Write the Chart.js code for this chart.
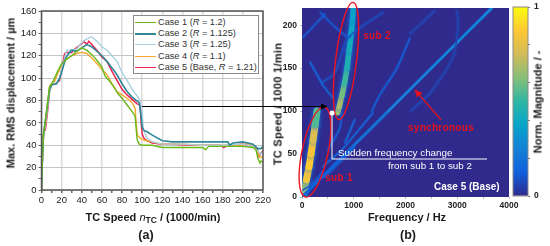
<!DOCTYPE html>
<html>
<head>
<meta charset="utf-8">
<script src="https://cdn.jsdelivr.net/npm/chart.js@4/dist/chart.umd.min.js"></script>
<style>
  html, body { margin: 0; padding: 0; background: #fff; }
  body { width: 550px; height: 246px; position: relative; overflow: hidden; font-family: "Liberation Sans", Arial, sans-serif; }
  canvas { position: absolute; }
  svg { position: absolute; left: 0; top: 0; }
  .t { position: absolute; white-space: nowrap; color: #111; line-height: 1; }
  .b { font-weight: bold; }
  .title { font-weight: bold; font-size: 11px; color: #1a1a1a; }
  .big { font-size: 12.5px; }
  .rot { transform: translate(-50%, -50%) rotate(-90deg); }
  .mid { transform: translate(-50%, -50%); }
  .red { color: #e3121e; font-weight: bold; font-size: 10px; letter-spacing: 0.3px; }
  .wht { color: #fff; font-size: 9.8px; }
  sub { font-size: 8.5px; line-height: 0; vertical-align: -2px; }
  #legend { position: absolute; left: 133px; top: 15px; width: 124px; height: 57px; background: #fff; border: 1px solid #8a8a8a; }
  #legend div { position: absolute; left: 0; height: 11px; font-size: 9.2px; line-height: 11px; color: #333; white-space: nowrap; }
  #legend span { position: absolute; left: 1px; top: 5px; width: 21px; }
  #legend b { font-weight: normal; position: absolute; left: 24px; top: 0; }
</style>
</head>
<body>
<canvas id="left" width="275" height="246" style="left:0;top:0"></canvas>
<canvas id="right" width="255" height="246" style="left:270px;top:0"></canvas>
<canvas id="bar" width="40" height="246" style="left:510px;top:0"></canvas>
<div id="legend"></div>

<svg width="550" height="246">
  <defs>
    <marker id="blackHead" markerWidth="7" markerHeight="7" refX="6" refY="3" orient="auto"><path d="M0,0 L6.5,3 L0,6 Z" fill="#000"/></marker>
    <marker id="redHead" markerWidth="8" markerHeight="8" refX="6" refY="3" orient="auto"><path d="M0,0 L6.5,3 L0,6 Z" fill="#e3121e"/></marker>
  </defs>
  <ellipse cx="315" cy="152" rx="13" ry="46" transform="rotate(12 315 152)" fill="none" stroke="#ee1420" stroke-width="1.4"/>
  <ellipse cx="346" cy="61" rx="10.5" ry="59" transform="rotate(7 346 61)" fill="none" stroke="#ee1420" stroke-width="1.4"/>
  <line x1="142" y1="106.5" x2="327" y2="106.5" stroke="#000" stroke-width="1" marker-end="url(#blackHead)"/>
  <line x1="441" y1="120" x2="415" y2="90" stroke="#e3121e" stroke-width="1.2" marker-end="url(#redHead)"/>
  <polyline points="332,113 332,159 487,159" fill="none" stroke="#fff" stroke-width="1"/>
  <circle cx="332" cy="113" r="2.5" fill="#fff"/>
</svg>

<div class="t title rot" style="left:11px;top:93px">Max. RMS displacement / µm</div>
<div class="t title mid" style="left:153px;top:217px">TC Speed <i style="font-weight:normal">n</i><sub>TC</sub> / (1000/min)</div>
<div class="t title big mid" style="left:146px;top:235px">(a)</div>
<div class="t title rot" style="left:278px;top:104px;letter-spacing:0.3px">TC Speed / 1000 1/min</div>
<div class="t title mid" style="left:407px;top:217px">Frequency / Hz</div>
<div class="t title big mid" style="left:408px;top:235px">(b)</div>
<div class="t title rot" style="left:538px;top:102px">Norm. Magnitude / -</div>

<div class="t red mid" style="left:377px;top:36px">sub 2</div>
<div class="t red mid" style="left:339px;top:178px">sub 1</div>
<div class="t red mid" style="left:441px;top:128px">synchronous</div>
<div class="t wht" style="left:338px;top:148px">Sudden frequency change</div>
<div class="t wht" style="left:388px;top:161px">from sub 1 to sub 2</div>
<div class="t wht b" style="left:434px;top:182px;font-size:10px">Case 5 (Base)</div>

<script>
// TC speed in 1000/min, displacement in um
const case1Speed = [0, 1, 2, 5, 8, 12, 16, 20, 25, 30, 35, 40, 45, 50, 55, 60, 63, 68, 72, 76, 80, 85, 90, 93, 94, 95, 97, 100, 110, 120, 130, 140, 150, 160, 163, 166, 180, 190, 200, 210, 213, 215, 217, 218, 220];
const case1Disp = [0, 30, 50, 70, 92, 98, 106, 113, 117, 120, 124, 127, 125, 121, 116, 110, 102, 97, 92, 86, 82, 76, 70, 66, 55, 45, 41, 40, 40, 38, 38, 38, 38, 38, 36, 39, 39, 39, 39, 38, 36, 28, 24, 26, 25];
const case2Speed = [0, 1, 2, 5, 8, 10, 15, 18, 20, 24, 27, 30, 35, 40, 45, 50, 55, 60, 65, 70, 75, 80, 85, 90, 97, 99, 100, 102, 105, 110, 120, 130, 140, 160, 185, 187, 190, 200, 205, 210, 215, 218, 220];
const case2Disp = [0, 30, 50, 70, 90, 94, 95, 100, 105, 118, 122, 125, 124, 127, 130, 128, 124, 120, 115, 109, 103, 95, 88, 83, 78, 65, 56, 53, 52, 49, 44, 43, 43, 43, 43, 40, 42, 43, 42, 41, 37, 37, 39];
const case3Speed = [0, 1, 2, 5, 8, 10, 15, 18, 20, 25, 30, 35, 40, 45, 50, 55, 60, 65, 70, 75, 80, 85, 90, 95, 98, 100, 101, 103, 105, 110, 120, 140, 160, 180, 200, 210, 215, 217, 220];
const case3Disp = [0, 28, 48, 66, 88, 94, 96, 100, 108, 125, 125, 126, 132, 135, 137, 133, 128, 125, 120, 115, 105, 98, 90, 84, 80, 70, 55, 50, 46, 43, 41, 41, 40, 40, 41, 39, 35, 32, 34];
const case4Speed = [0, 1, 2, 4, 6, 8, 10, 13, 16, 20, 25, 30, 35, 40, 45, 50, 55, 60, 65, 70, 75, 80, 85, 90, 93, 94, 95, 96, 100, 105, 110, 120, 140, 160, 180, 200, 205, 210, 215, 217, 220];
const case4Disp = [0, 30, 50, 60, 78, 93, 95, 97, 104, 112, 117, 120, 122, 123, 122, 118, 113, 108, 103, 95, 88, 85, 82, 78, 73, 60, 50, 48, 45, 44, 43, 41, 41, 40, 40, 40, 42, 39, 34, 29, 30];
const case5Speed = [0, 1, 2, 4, 6, 8, 10, 14, 18, 20, 23, 25, 30, 33, 36, 40, 42, 45, 47, 50, 55, 60, 65, 70, 75, 80, 85, 90, 95, 98, 99, 100, 102, 105, 110, 120, 130, 150, 165, 178, 181, 185, 190, 200, 205, 210, 214, 216, 218, 220];
const case5Disp = [0, 30, 50, 55, 70, 88, 94, 95, 98, 108, 122, 123, 123, 126, 128, 131, 133, 130, 133, 130, 125, 119, 115, 106, 98, 90, 85, 81, 77, 76, 60, 50, 46, 44, 42, 41, 41, 40, 40, 40, 38, 40, 40, 41, 40, 39, 37, 30, 33, 35];

const caseLabels = ['Case 1 (<i>R</i> = 1.2)', 'Case 2 (<i>R</i> = 1.125)', 'Case 3 (<i>R</i> = 1.25)', 'Case 4 (<i>R</i> = 1.1)', 'Case 5 (Base, <i>R</i> = 1.21)'];
const caseColors = ['#68b81c', '#2f8797', '#a9d0e0', '#f6a92c', '#ef2450'];
const caseWidths = [1.4, 1.6, 1.4, 1.4, 1.5];

// campbell ridges: frequency in Hz, speed in 1000/min, normalised magnitude
const sub1Hz = [20, 39, 85, 135, 175, 213, 255, 290];
const sub1Speed = [2, 6, 20, 35, 50, 66, 84, 100];
const sub1Mag = [0.22, 0.4, 0.66, 0.84, 0.88, 0.86, 0.78, 0.55];
const sub1CoreMag = [0.25, 0.45, 0.8, 0.98, 1, 1, 0.95, 0.7];
const sub2Hz = [690, 720, 770, 820, 870, 910, 950, 975, 990];
const sub2Speed = [98, 105, 118, 132, 150, 170, 190, 205, 220];
const sub2Mag = [0.45, 0.66, 0.68, 0.6, 0.52, 0.45, 0.42, 0.4, 0.36];
const syncHz = [0, 1000, 1667, 2500, 3667];
const syncSpeed = [0, 60, 100, 150, 220];
const syncMag = [0.06, 0.14, 0.2, 0.25, 0.26];
const faintHz = [
  [20, 445], [350, 600, 890], [155, 350, 405, 600], [385, 640, 890, 1565],
  [2085, 1835, 1505, 1350], [2570, 2085], [2995, 3015, 2917, 2473, 2100],
  [400, 770, 985, 1370], [830, 1020], [500, 730, 770], [440, 1020], [20, 190, 400]
];
const faintSpeed = [
  [186, 213], [215, 200, 185], [157, 136, 130, 115], [133, 145, 185, 215],
  [185, 150, 119, 100], [217, 190], [217, 198, 163, 121, 100],
  [35, 55, 70, 98], [63, 90], [55, 80, 98], [23, 58], [8, 15, 30]
];
const faintMag = [0.11, 0.1, 0.14, 0.07, 0.12, 0.05, 0.05, 0.15, 0.16, 0.12, 0.11, 0.1];

// parula-like colour bar, bottom to top
const barColors = ['#2f2a8c', '#1060dc', '#1481d6', '#06a4ca', '#2eb7a4', '#87bf77', '#d1bb59', '#fec832', '#f9fb0e'];

function magColor(m) {
  const p = Math.max(0, Math.min(1, m)) * (barColors.length - 1);
  const i = Math.min(Math.floor(p), barColors.length - 2);
  const f = p - i;
  const a = parseInt(barColors[i].slice(1), 16), b = parseInt(barColors[i + 1].slice(1), 16);
  const mix = s => Math.round(((a >> s) & 255) * (1 - f) + ((b >> s) & 255) * f);
  return `rgb(${mix(16)},${mix(8)},${mix(0)})`;
}

function zipPts(xs, ys) {
  return xs.map((x, i) => ({ x: x, y: ys[i] }));
}

// keeps the plot box where the figure has it
function fixWidth(w) {
  return s => { s.width = w; s.paddingTop = 0; s.paddingBottom = 0; };
}
function fixHeight(h) {
  return s => { s.height = h; s.paddingLeft = 0; s.paddingRight = 0; };
}

const frame = {
  id: 'frame',
  afterDatasetsDraw(chart, args, opts) {
    const a = chart.chartArea, ctx = chart.ctx;
    ctx.save();
    ctx.strokeStyle = opts.color;
    ctx.lineWidth = opts.width;
    ctx.strokeRect(a.left, a.top, a.width, a.height);
    ctx.restore();
  }
};

const plotBg = {
  id: 'plotBg',
  beforeDatasetsDraw(chart) {
    const a = chart.chartArea, ctx = chart.ctx;
    ctx.fillStyle = barColors[0];
    ctx.fillRect(a.left, a.top, a.width, a.height);
  },
  beforeDatasetDraw(chart, args) {
    const g = chart.data.datasets[args.index].glow;
    if (g) {
      chart.ctx.save();
      chart.ctx.shadowColor = '#1a6fe0';
      chart.ctx.shadowBlur = g;
    }
  },
  afterDatasetDraw(chart, args) {
    if (chart.data.datasets[args.index].glow) chart.ctx.restore();
  }
};

// legend
caseLabels.forEach((txt, i) => {
  const row = document.createElement('div');
  row.style.top = (1 + i * 11.2) + 'px';
  row.style.width = '100%';
  row.innerHTML = `<span style="border-top:${i == 1 ? 2 : 1.3}px solid ${caseColors[i]}"></span><b>${txt}</b>`;
  document.getElementById('legend').appendChild(row);
});

const tickFont = { family: '"Liberation Sans", Arial, sans-serif', size: 9.5 };

new Chart(document.getElementById('left'), {
  type: 'scatter',
  data: {
    datasets: [
      { data: zipPts(case1Speed, case1Disp), borderColor: caseColors[0], borderWidth: caseWidths[0] },
      { data: zipPts(case2Speed, case2Disp), borderColor: caseColors[1], borderWidth: caseWidths[1] },
      { data: zipPts(case3Speed, case3Disp), borderColor: caseColors[2], borderWidth: caseWidths[2] },
      { data: zipPts(case4Speed, case4Disp), borderColor: caseColors[3], borderWidth: caseWidths[3] },
      { data: zipPts(case5Speed, case5Disp), borderColor: caseColors[4], borderWidth: caseWidths[4] }
    ].map(d => Object.assign(d, { showLine: true, pointRadius: 0, fill: false, tension: 0 }))
  },
  options: {
    responsive: false,
    animation: false,
    layout: { padding: { top: 11, right: 12, left: 0, bottom: 0 } },
    plugins: { legend: { display: false }, tooltip: { enabled: false }, frame: { color: '#555', width: 1.5 } },
    scales: {
      x: {
        type: 'linear', min: 0, max: 220,
        afterFit: fixHeight(56),
        ticks: {
          stepSize: 10, autoSkip: false, maxRotation: 0, font: tickFont, color: '#222', padding: 2,
          callback: v => v % 20 == 0 ? v : ''
        },
        grid: {
          tickLength: 3,
          color: c => c.tick.value % 20 == 0 ? '#dcdcdc' : 'transparent',
          lineWidth: 1.5,
          tickColor: '#666'
        },
        border: { display: false }
      },
      y: {
        type: 'linear', min: 0, max: 160,
        afterFit: fixWidth(41.5),
        ticks: {
          stepSize: 10, autoSkip: false, font: tickFont, color: '#222', padding: 2,
          callback: v => v % 20 == 0 ? v : ''
        },
        grid: {
          tickLength: 3,
          color: c => c.tick.value % 20 == 0 ? '#c4c4c4' : 'transparent',
          lineWidth: 1,
          tickColor: '#666'
        },
        border: { display: false }
      }
    }
  },
  plugins: [frame]
});

const ridgeSets = [];
faintHz.forEach((hz, i) => {
  ridgeSets.push({ data: zipPts(hz, faintSpeed[i]), borderColor: magColor(faintMag[i]), borderWidth: 1.3, glow: 2 });
});
function ridge(hz, speed, mag, width, glow) {
  return {
    data: zipPts(hz, speed),
    borderWidth: width,
    glow: glow,
    borderColor: magColor(mag[0]),
    segment: { borderColor: c => magColor(mag[c.p1DataIndex]) }
  };
}
ridgeSets.push(ridge(syncHz, syncSpeed, syncMag, 2.5, 1));
ridgeSets.push(ridge(sub1Hz, sub1Speed, sub1Mag, 7, 5));
ridgeSets.push(ridge(sub1Hz, sub1Speed, sub1CoreMag, 3.5, 0));
ridgeSets.push(ridge(sub2Hz, sub2Speed, sub2Mag, 5.5, 5));
ridgeSets.forEach(d => Object.assign(d, { showLine: true, pointRadius: 0, tension: 0.3, borderCapStyle: 'round' }));

const boldTicks = { family: '"Liberation Sans", Arial, sans-serif', size: 8.5, weight: 'bold' };

new Chart(document.getElementById('right'), {
  type: 'scatter',
  data: { datasets: ridgeSets },
  options: {
    responsive: false,
    animation: false,
    layout: { padding: { top: 8, right: 16, left: 0, bottom: 0 } },
    plugins: { legend: { display: false }, tooltip: { enabled: false } },
    scales: {
      x: {
        type: 'linear', min: 0, max: 4000,
        afterFit: fixHeight(49),
        ticks: {
          stepSize: 500, autoSkip: false, maxRotation: 0, font: boldTicks, color: '#222', padding: 2,
          callback: v => v % 1000 == 0 ? v : ''
        },
        grid: { drawOnChartArea: false, tickLength: 2, tickColor: '#bbb' },
        border: { display: false }
      },
      y: {
        type: 'linear', min: 0, max: 220,
        afterFit: fixWidth(32),
        ticks: { stepSize: 50, includeBounds: false, font: boldTicks, color: '#222', padding: 3 },
        grid: { drawOnChartArea: false, tickLength: 2, tickColor: '#bbb' },
        border: { display: false }
      }
    }
  },
  plugins: [plotBg]
});

new Chart(document.getElementById('bar'), {
  type: 'bar',
  data: {
    labels: ['Norm. Magnitude'],
    datasets: [{
      data: [1],
      barPercentage: 1,
      categoryPercentage: 1,
      backgroundColor(c) {
        const a = c.chart.chartArea;
        if (!a) return barColors[0];
        const g = c.chart.ctx.createLinearGradient(0, a.bottom, 0, a.top);
        barColors.forEach((col, i) => g.addColorStop(i / (barColors.length - 1), col));
        return g;
      }
    }]
  },
  options: {
    responsive: false,
    animation: false,
    layout: { padding: { top: 7, right: 0, left: 3, bottom: 50 } },
    plugins: { legend: { display: false }, tooltip: { enabled: false }, frame: { color: '#8a8a8a', width: 1 } },
    scales: {
      x: { display: false },
      y: {
        position: 'right', min: 0, max: 1,
        afterFit: fixWidth(22),
        ticks: {
          stepSize: 0.2, autoSkip: false, font: boldTicks, color: '#222', padding: 4,
          callback: v => (v == 0 || v == 1) ? v : ''
        },
        grid: { drawOnChartArea: false, tickLength: 2, tickColor: '#777' },
        border: { display: false }
      }
    }
  },
  plugins: [frame]
});
</script>
</body>
</html>
